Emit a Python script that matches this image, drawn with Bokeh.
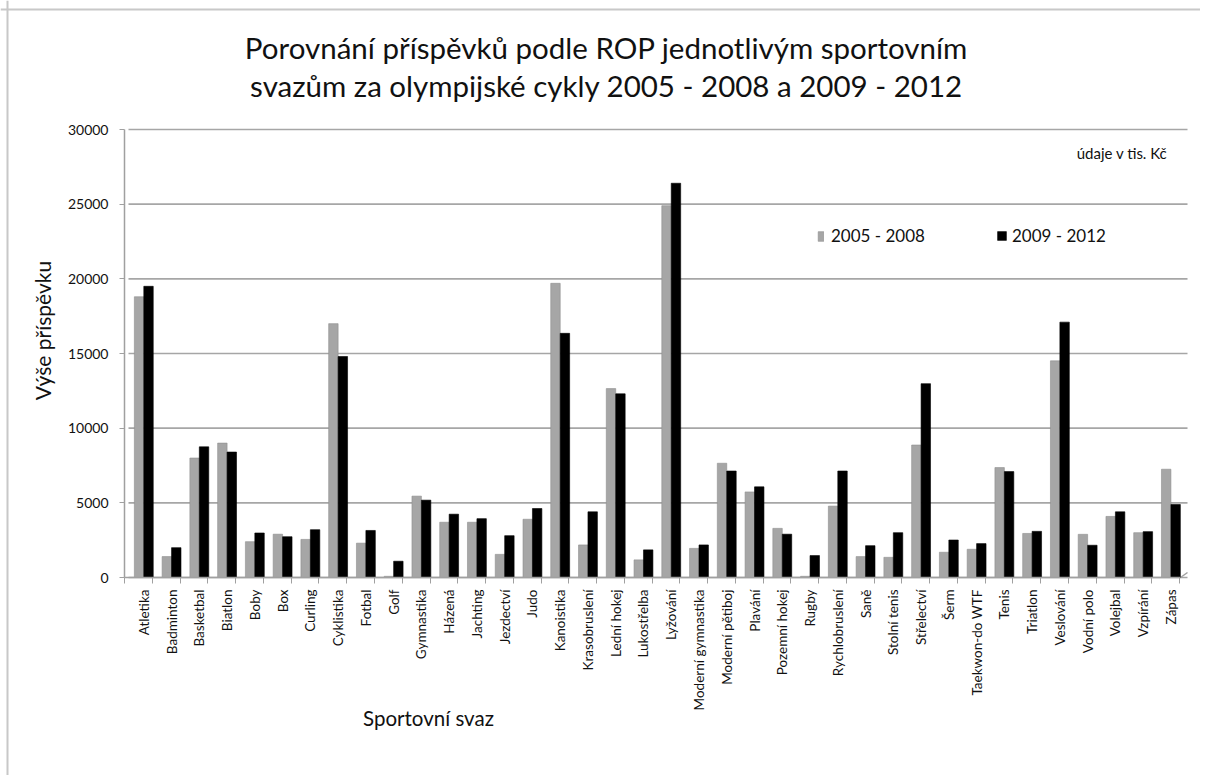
import math
from bokeh.plotting import figure
from bokeh.models import (Range1d, FixedTicker, Label, Legend, LegendItem, ColumnDataSource,
                          NumeralTickFormatter, Span)
from bokeh.transform import dodge
from bokeh.embed import file_html
from bokeh.resources import INLINE

sports = ["Atletika", "Badminton", "Basketbal", "Biatlon", "Boby", "Box", "Curling",
          "Cyklistika", "Fotbal", "Golf", "Gymnastika", "Házená", "Jachting", "Jezdectví",
          "Judo", "Kanoistika", "Krasobruslení", "Lední hokej", "Lukostřelba", "Lyžování",
          "Moderní gymnastika", "Moderní pětiboj", "Plavání", "Pozemní hokej", "Rugby",
          "Rychlobruslení", "Saně", "Stolní tenis", "Střelectví", "Šerm", "Taekwon-do WTF",
          "Tenis", "Triatlon", "Veslování", "Vodní polo", "Volejbal", "Vzpírání", "Zápas"]

v_2005_2008 = [18800, 1400, 8000, 9000, 2400, 2900, 2550, 17000, 2300, 80, 5450, 3700, 3700,
               1550, 3900, 19700, 2180, 12650, 1180, 24900, 1950, 7650, 5730, 3290, 80,
               4780, 1400, 1350, 8870, 1690, 1890, 7360, 2950, 14510, 2890, 4090, 3000, 7250]
v_2009_2012 = [19500, 2000, 8750, 8400, 2980, 2730, 3200, 14800, 3150, 1090, 5180, 4240, 3940,
               2800, 4620, 16350, 4400, 12300, 1850, 26400, 2180, 7130, 6070, 2900, 1470,
               7130, 2130, 3000, 12980, 2510, 2270, 7090, 3090, 17100, 2160, 4400, 3070, 4890]

series_labels = ["2005 - 2008", "2009 - 2012"]
y_ticks = [0, 5000, 10000, 15000, 20000, 25000, 30000]
title_lines = ["Porovnání příspěvků podle ROP jednotlivým sportovním",
               "svazům za olympijské cykly 2005 - 2008 a 2009 - 2012"]
x_title = "Sportovní svaz"
y_title = "Výše příspěvku"
unit_note = "údaje v tis. Kč"

FONT = "Lato"
GRAY = "#a6a6a6"
TXT = "#111111"

# ---- layout geometry (page pixels) ----
W, H = 1200, 775
PAGE_L, PAGE_T = 0, 0
CAT0, CAT_STEP = 143.3, 27.76        # page x of first category centre, px per category
Y0_PAGE, Y30K_PAGE = 577, 129        # page y of value 0 and of 30000
UPP = 30000 / (Y0_PAGE - Y30K_PAGE)  # value units per pixel


def px_x(px):
    return (px - CAT0) / CAT_STEP


def px_y(py):
    return (Y0_PAGE - py) * UPP


def sx(px):
    return px - PAGE_L


def sy(py):
    return PAGE_T + H - py


idx = list(range(len(sports)))
src = ColumnDataSource(dict(x=idx, a=v_2005_2008, b=v_2009_2012))

p = figure(width=W, height=H, output_backend="svg", toolbar_location=None,
           x_range=Range1d(px_x(PAGE_L), px_x(PAGE_L + W)),
           y_range=Range1d(px_y(PAGE_T + H), px_y(PAGE_T)),
           min_border=0)
p.outline_line_color = None
p.background_fill_color = "white"
p.border_fill_color = "white"
p.xgrid.visible = False
p.ygrid.visible = False

# outer frame lines (top and left)
p.add_layout(Span(location=px_y(9), dimension="width", line_color="#c8c8c8", line_width=2))
p.add_layout(Span(location=px_x(7), dimension="height", line_color="#c8c8c8", line_width=2))

# horizontal gridlines (back wall)
gx0, gx1 = px_x(128), px_x(1187)
p.segment(x0=[gx0] * len(y_ticks), x1=[gx1] * len(y_ticks), y0=y_ticks, y1=y_ticks,
          line_color="#a6a6a6", line_width=1.6)
# small perspective edge at the right end of the floor
p.segment(x0=[px_x(1180)], y0=[0], x1=[px_x(1187)], y1=[px_y(572)],
          line_color="#a0a0a0", line_width=1.5)

r1 = p.vbar(x=dodge("x", -0.17, range=p.x_range), top="a", width=0.34, bottom=0, source=src,
            fill_color=GRAY, line_color="#8f8f8f", line_width=0.6)
r2 = p.vbar(x=dodge("x", 0.17, range=p.x_range), top="b", width=0.34, bottom=0, source=src,
            fill_color="black", line_color="black", line_width=0.6)

# x axis, fixed at value 0
xa = p.xaxis[0]
xa.fixed_location = 0
xa.bounds = (px_x(124), px_x(1180))
xa.ticker = FixedTicker(ticks=idx, minor_ticks=[i + 0.31 for i in range(-1, len(sports))])
xa.major_label_overrides = {i: s for i, s in enumerate(sports)}
xa.major_label_orientation = math.pi / 2
xa.major_tick_line_color = None
xa.major_tick_out = 6
xa.minor_tick_line_color = "#a0a0a0"
xa.minor_tick_out = 6
xa.minor_tick_in = 0
xa.axis_line_color = "#a0a0a0"
xa.axis_line_width = 1.5
xa.major_label_standoff = 6
xa.major_label_text_font = FONT
xa.major_label_text_font_size = "13.5px"
xa.major_label_text_color = TXT

# y axis, fixed at page x 124
ya = p.yaxis[0]
ya.fixed_location = px_x(124)
ya.bounds = (0, 30000)
ya.ticker = FixedTicker(ticks=y_ticks)
ya.formatter = NumeralTickFormatter(format="0")
ya.major_tick_out = 5
ya.major_tick_in = 0
ya.minor_tick_line_color = None
ya.major_tick_line_color = "#a0a0a0"
ya.axis_line_color = "#a0a0a0"
ya.axis_line_width = 1.5
ya.major_label_standoff = 11
ya.major_label_text_font = FONT
ya.major_label_text_font_size = "14px"
ya.major_label_text_color = TXT


def add_label(text, px, py, size, align="center", angle=0.0):
    p.add_layout(Label(x=sx(px), y=sy(py), x_units="screen", y_units="screen", text=text,
                       angle=angle, text_align=align, text_baseline="middle",
                       text_font=FONT, text_font_size=size, text_color=TXT))


add_label(title_lines[0], 606, 47, "29.5px")
add_label(title_lines[1], 606, 85, "29.5px")
add_label(y_title, 42, 330, "21px", angle=math.pi / 2)
add_label(x_title, 428, 717, "20.5px")
add_label(unit_note, 1167, 152, "15px", align="right")

# legends
for r, lab, gx, gw, gh, so in [(r1, series_labels[0], 817, 7, 12, 7),
                               (r2, series_labels[1], 996, 11, 11, 5)]:
    lg = Legend(items=[LegendItem(label=lab, renderers=[r])], location=(sx(gx), sy(246)),
                orientation="horizontal", padding=0, margin=0, border_line_color=None,
                background_fill_alpha=0, glyph_width=gw, glyph_height=gh, label_standoff=so,
                label_text_font=FONT, label_text_font_size="17px", label_height=20,
                label_text_color=TXT)
    p.add_layout(lg, "center")

open("out.html", "w").write(file_html(p, INLINE))
